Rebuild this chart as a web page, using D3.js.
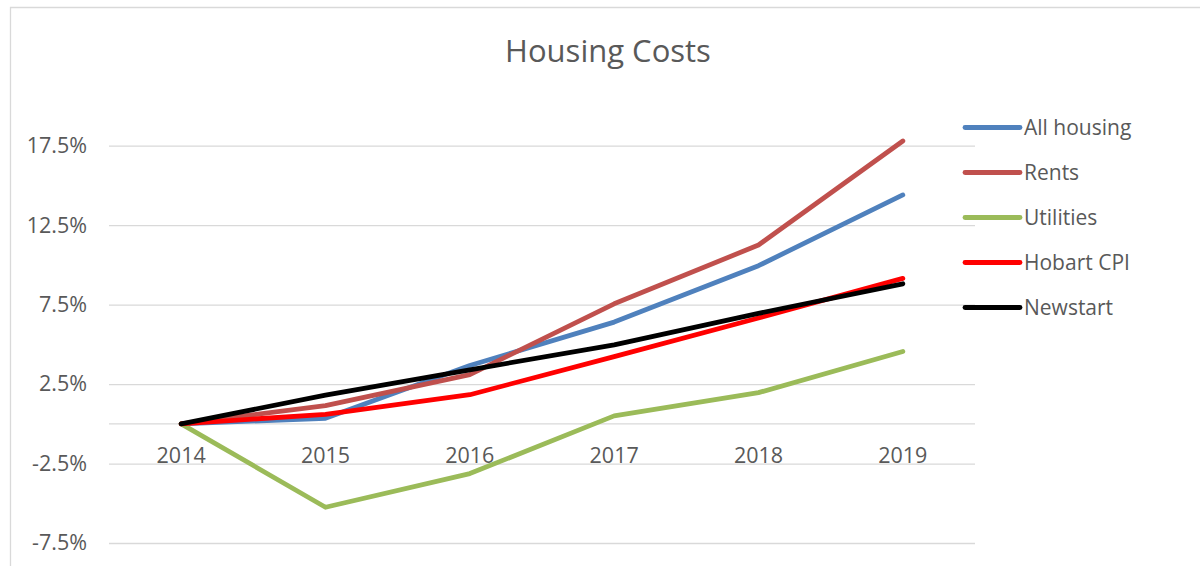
<!DOCTYPE html>
<html>
<head>
<meta charset="utf-8">
<script src="https://cdn.jsdelivr.net/npm/d3@7"></script>
<style>
    body { margin: 0; background: #fff; }
    text { font-family: "Open Sans", sans-serif; fill: #595959; }
</style>
</head>
<body>
<div id="chart"></div>
<script>
'use strict';

// values, % change since 2014
var years = ['2014', '2015', '2016', '2017', '2018', '2019'];
var allHousing = [0, 0.35, 3.67, 6.4, 9.95, 14.4];
var rents = [0, 1.15, 3.1, 7.55, 11.25, 17.8];
var utilities = [0, -5.25, -3.13, 0.5, 1.96, 4.55];
var hobartCpi = [0, 0.6, 1.83, 4.23, 6.66, 9.15];
var newstart = [0, 1.8, 3.4, 4.97, 6.95, 8.81];

var seriesNames = ['All housing', 'Rents', 'Utilities', 'Hobart CPI', 'Newstart'];
var seriesColors = ['#4f81bd', '#c0504d', '#9bbb59', '#ff0000', '#000000'];
var yTicks = [-7.5, -2.5, 2.5, 7.5, 12.5, 17.5];

var width = 1200,
    height = 566;
var plot = { left: 109, right: 975, top: 145.7, bottom: 543 };

var series = [allHousing, rents, utilities, hobartCpi, newstart].map(function (vals, i) {
    return { name: seriesNames[i], color: seriesColors[i], values: vals };
});

var svg = d3.select('#chart').append('svg')
    .attr('width', width)
    .attr('height', height);

// chart border (only top + left are visible in the crop)
svg.append('path')
    .attr('d', 'M10.5,' + height + 'V7.5H' + width)
    .attr('fill', 'none')
    .attr('stroke', '#d9d9d9')
    .attr('stroke-width', 1.3);

var x = d3.scalePoint().domain(years).range([plot.left, plot.right]).padding(0.5);
var y = d3.scaleLinear().domain([-7.5, 17.5]).range([plot.bottom, plot.top]);

svg.append('text')
    .attr('x', 608)
    .attr('y', 62)
    .attr('text-anchor', 'middle')
    .style('font-size', '31px')
    .text('Housing Costs');

// gridlines + y labels
var yAxis = d3.axisLeft(y)
    .tickValues(yTicks)
    .tickSize(-(plot.right - plot.left))
    .tickPadding(22)
    .tickFormat(function (d) { return d.toFixed(1) + '%'; });

var yg = svg.append('g')
    .attr('transform', 'translate(' + plot.left + ',0)')
    .call(yAxis);
yg.select('.domain').remove();
yg.selectAll('.tick line').attr('stroke', '#d9d9d9').attr('stroke-width', 1.3);
yg.selectAll('.tick text')
    .style('font-size', '21.5px')
    .attr('fill', '#595959')
    .attr('font-family', '"Open Sans", sans-serif');

// horizontal axis at 0
svg.append('line')
    .attr('x1', plot.left).attr('x2', plot.right)
    .attr('y1', y(0)).attr('y2', y(0))
    .attr('stroke', '#d9d9d9')
    .attr('stroke-width', 1.3);

svg.append('g').selectAll('text')
    .data(years)
    .enter().append('text')
    .attr('x', function (d) { return x(d); })
    .attr('y', 462.5)
    .attr('text-anchor', 'middle')
    .style('font-size', '21.5px')
    .text(function (d) { return d; });

var line = d3.line()
    .x(function (d, i) { return x(years[i]); })
    .y(function (d) { return y(d); });

svg.append('g').selectAll('path')
    .data(series)
    .enter().append('path')
    .attr('d', function (d) { return line(d.values); })
    .attr('fill', 'none')
    .attr('stroke', function (d) { return d.color; })
    .attr('stroke-width', 4.8)
    .attr('stroke-linejoin', 'round')
    .attr('stroke-linecap', 'round');

// legend
var legend = svg.append('g').selectAll('g')
    .data(series)
    .enter().append('g')
    .attr('transform', function (d, i) { return 'translate(965,' + (127.5 + i * 45) + ')'; });

legend.append('line')
    .attr('x1', 0).attr('x2', 55)
    .attr('stroke', function (d) { return d.color; })
    .attr('stroke-width', 4.8)
    .attr('stroke-linecap', 'round');

legend.append('text')
    .attr('x', 59)
    .attr('dy', '0.35em')
    .style('font-size', '21px')
    .text(function (d) { return d.name; });
</script>
</body>
</html>
